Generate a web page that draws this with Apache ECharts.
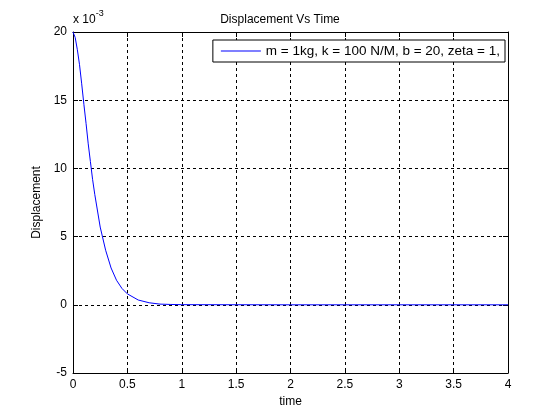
<!DOCTYPE html>
<html>
<head>
<meta charset="utf-8">
<script src="https://cdn.jsdelivr.net/npm/echarts@6/dist/echarts.min.js"></script>
<style>
html,body{margin:0;padding:0;background:#fff;}
#main{width:560px;height:420px;}
</style>
</head>
<body>
<div id="main"></div>
<script>
// time (s) and displacement (x 10^-3)
var tData = [0, 0.02, 0.04, 0.06, 0.08, 0.1, 0.12, 0.14, 0.16, 0.18, 0.2, 0.25, 0.3, 0.35, 0.4, 0.45, 0.5, 0.6, 0.7, 0.8, 0.9, 1, 2, 3, 4];
var xData = [20, 19.6, 18.7, 17.6, 16.2, 14.7, 13.3, 11.8, 10.5, 9.2, 8.1, 5.7, 4.0, 2.7, 1.8, 1.2, 0.8, 0.35, 0.15, 0.05, 0.025, 0.01, 0, 0, 0];
var xTicks = [0, 0.5, 1, 1.5, 2, 2.5, 3, 3.5, 4];
var yTicks = [-5, 0, 5, 10, 15, 20];
var legendName = 'm = 1kg, k = 100 N/M, b = 20, zeta = 1,';

var pts = [];
for (var i = 0; i < tData.length; i++) {
	pts.push([tData[i], xData[i]]);
}

var font = 'Liberation Sans, Arial, sans-serif';
var myChart = echarts.init(document.getElementById('main'));

var option = {
	animation: false,
	backgroundColor: '#fff',
	title: {
		text: 'Displacement Vs Time',
		left: 'center',
		top: 9,
		textStyle: {fontFamily: font, fontSize: 12, fontWeight: 'normal', color: '#000'}
	},
	legend: {
		right: 55,
		top: 40,
		data: [legendName],
		backgroundColor: '#fff',
		borderColor: '#000',
		borderWidth: 1,
		borderRadius: 0,
		padding: [4, 5, 4, 8],
		itemWidth: 40,
		itemHeight: 1,
		itemGap: 4,
		icon: 'rect',
		textStyle: {fontFamily: font, fontSize: 13.5, color: '#000'}
	},
	grid: {left: 73, right: 52, top: 32, bottom: 47},
	xAxis: [
		{
			type: 'value', min: 0, max: 4, interval: 0.5,
			name: 'time', nameLocation: 'middle', nameGap: 22,
			nameTextStyle: {fontFamily: font, fontSize: 12, color: '#000'},
			axisLine: {onZero: false, lineStyle: {color: '#000'}},
			axisTick: {inside: true, length: 5, lineStyle: {color: '#000'}},
			axisLabel: {fontFamily: font, fontSize: 12, color: '#000', margin: 6,
				formatter: function (v) { return xTicks.indexOf(v) >= 0 ? String(v) : ''; }},
			splitLine: {show: true, lineStyle: {color: '#000', type: [3, 3]}}
		},
		{
			type: 'value', min: 0, max: 4, interval: 0.5, position: 'top',
			axisLine: {onZero: false, lineStyle: {color: '#000'}},
			axisTick: {inside: true, length: 5, lineStyle: {color: '#000'}},
			axisLabel: {show: false},
			splitLine: {show: false}
		}
	],
	yAxis: [
		{
			type: 'value', min: -5, max: 20, interval: 5,
			name: 'Displacement', nameLocation: 'middle', nameGap: 27,
			nameTextStyle: {fontFamily: font, fontSize: 12, color: '#000'},
			axisLine: {onZero: false, lineStyle: {color: '#000'}},
			axisTick: {inside: true, length: 5, lineStyle: {color: '#000'}},
			axisLabel: {fontFamily: font, fontSize: 12, color: '#000', margin: 6,
				formatter: function (v) { return yTicks.indexOf(v) >= 0 ? String(v) : ''; }},
			splitLine: {show: true, lineStyle: {color: '#000', type: [3, 3]}}
		},
		{
			type: 'value', min: -5, max: 20, interval: 5, position: 'right',
			axisLine: {onZero: false, lineStyle: {color: '#000'}},
			axisTick: {inside: true, length: 5, lineStyle: {color: '#000'}},
			axisLabel: {show: false},
			splitLine: {show: false}
		}
	],
	graphic: [{
		type: 'text',
		left: 73,
		top: 9,
		style: {
			text: '{a|x 10}{b|-3}',
			rich: {
				a: {fontFamily: font, fontSize: 12, fill: '#000', verticalAlign: 'bottom'},
				b: {fontFamily: font, fontSize: 9, fill: '#000', verticalAlign: 'top', padding: [0, 0, 8, 0]}
			}
		}
	}],
	series: [{
		name: legendName,
		type: 'line',
		data: pts,
		smooth: false,
		showSymbol: false,
		lineStyle: {color: '#0000ff', width: 1},
		itemStyle: {color: '#0000ff'}
	}]
};
myChart.setOption(option);
</script>
</body>
</html>
